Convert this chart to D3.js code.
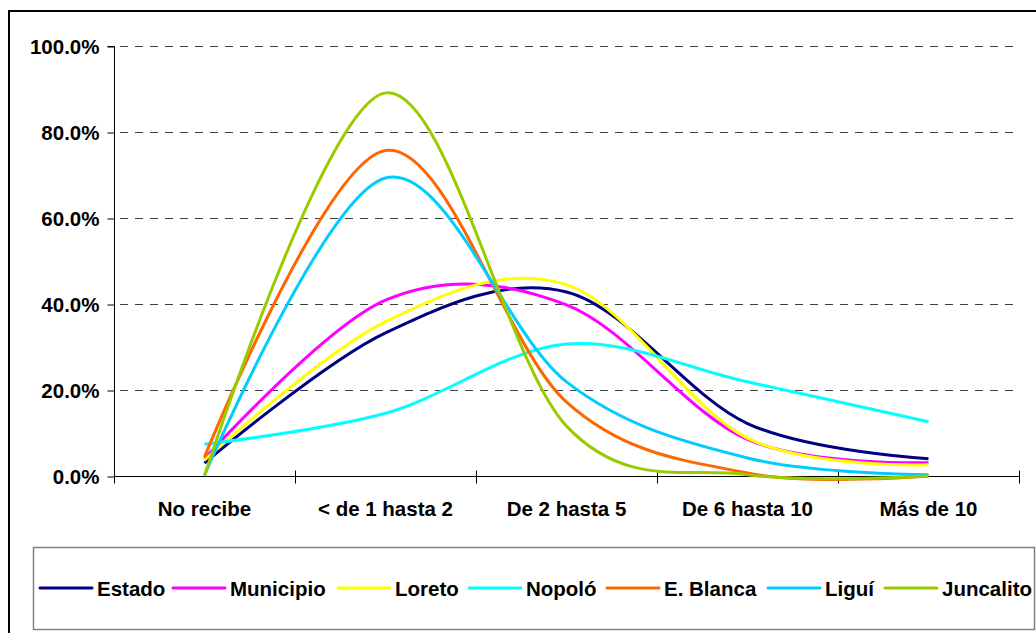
<!DOCTYPE html>
<html><head><meta charset="utf-8">
<script src="https://cdn.jsdelivr.net/npm/d3@7"></script>
<style>
html,body{margin:0;padding:0;background:#fff;overflow:hidden;}
text{font-family:"Liberation Sans",Arial,sans-serif;font-weight:bold;fill:#000;}
</style></head>
<body>
<svg id="chart" width="1036" height="633"></svg>
<script>
const categories = ["No recibe", "< de 1 hasta 2", "De 2 hasta 5", "De 6 hasta 10", "Más de 10"];
const seriesNames = ["Estado", "Municipio", "Loreto", "Nopoló", "E. Blanca", "Liguí", "Juncalito"];
const seriesColors = ["#000080", "#FF00FF", "#FFFF00", "#00FFFF", "#FF6600", "#00CCFF", "#99CC00"];
const estado    = [3.0, 33.3, 42.8, 12.2, 4.0];
const municipio = [4.0, 40.9, 39.8, 8.5, 3.1];
const loreto    = [3.7, 35.9, 44.5, 8.8, 2.6];
const nopolo    = [7.4, 14.6, 30.7, 21.9, 12.6];
const eblanca   = [4.4, 75.7, 17.2, 0.7, 0.0];
const ligui     = [0.2, 69.3, 21.9, 4.2, 0.3];
const juncalito = [0.0, 89.1, 11.6, 0.3, 0.0];
const yTicks = [0, 20, 40, 60, 80, 100];

const seriesValues = [estado, municipio, loreto, nopolo, eblanca, ligui, juncalito];

const svg = d3.select("#chart");
const plot = {left: 114, right: 1019, top: 46, bottom: 476};

// outer frame
svg.append("rect").attr("x", 9).attr("y", 11).attr("width", 1200).attr("height", 800)
  .attr("fill", "#fff").attr("stroke", "#000").attr("stroke-width", 2);

const x = d3.scaleBand().domain(categories).range([plot.left, plot.right]);
const y = d3.scaleLinear().domain([0, 100]).range([plot.bottom, plot.top]);

// gridlines
svg.append("g").selectAll("line").data(yTicks.filter(d => d > 0)).join("line")
  .attr("x1", plot.left).attr("x2", plot.right)
  .attr("y1", d => Math.round(y(d)) + 0.5).attr("y2", d => Math.round(y(d)) + 0.5)
  .attr("stroke", "#404040").attr("stroke-width", 1).attr("stroke-dasharray", "8,7")
  .attr("stroke-dashoffset", -6);

// y axis
const yAxis = d3.axisLeft(y).tickValues(yTicks).tickSize(7).tickPadding(8)
  .tickFormat(d => d.toFixed(1) + "%");
const gy = svg.append("g").attr("transform", `translate(${plot.left + 0.5},0.5)`).call(yAxis);
gy.select(".domain").attr("stroke", "#000").attr("d", `M-7,${plot.top}H0V${plot.bottom}`);
gy.selectAll(".tick line").attr("stroke", "#000");
gy.selectAll(".tick text").attr("font-size", 20.5).attr("font-family", "Liberation Sans, Arial, sans-serif")
  .attr("font-weight", "bold").attr("fill", "#000").attr("dy", "0.35em").attr("x", -15);

// x axis
const gx = svg.append("g").attr("transform", `translate(0,${plot.bottom + 0.5})`);
gx.append("line").attr("x1", plot.left).attr("x2", plot.right).attr("y1", 0).attr("y2", 0).attr("stroke", "#000");
const edges = categories.map(c => x(c)).concat([x(categories[categories.length - 1]) + x.bandwidth()]);
gx.selectAll("line.tk").data(edges).join("line").attr("class", "tk")
  .attr("x1", d => Math.round(d) + 0.5).attr("x2", d => Math.round(d) + 0.5)
  .attr("y1", -6).attr("y2", 7).attr("stroke", "#000");
gx.selectAll("text").data(categories).join("text")
  .attr("x", d => x(d) + x.bandwidth() / 2).attr("y", 39)
  .attr("text-anchor", "middle").attr("font-size", 20.5).text(d => d);

// lines
const line = d3.line()
  .x((d, i) => x(categories[i]) + x.bandwidth() / 2)
  .y(d => y(d))
  .curve(d3.curveCardinal.tension(0));

svg.append("g").selectAll("path").data(seriesValues).join("path")
  .attr("d", d => line(d)).attr("fill", "none")
  .attr("stroke", (d, i) => seriesColors[i]).attr("stroke-width", 3)
  .attr("stroke-linejoin", "round");

// legend
const legendBox = {x: 33, y: 547, w: 1001, h: 82};
svg.append("defs").append("clipPath").attr("id", "legclip").append("rect")
  .attr("x", legendBox.x).attr("y", legendBox.y).attr("width", legendBox.w).attr("height", legendBox.h);
svg.append("rect").attr("x", legendBox.x + 0.5).attr("y", legendBox.y + 0.5)
  .attr("width", legendBox.w).attr("height", legendBox.h)
  .attr("fill", "#fff").attr("stroke", "#808080").attr("stroke-width", 1.5);
const legendX = [39, 172, 337, 468, 606, 767, 884];
const lg = svg.append("g").attr("clip-path", "url(#legclip)");
const items = lg.selectAll("g").data(seriesNames).join("g")
  .attr("transform", (d, i) => `translate(${legendX[i]},588)`);
items.append("line").attr("x1", 1).attr("x2", 53).attr("y1", 0).attr("y2", 0)
  .attr("stroke", (d, i) => seriesColors[i]).attr("stroke-width", 3).attr("stroke-linecap", "round");
items.append("text").attr("x", 58).attr("y", 7.5).attr("font-size", 20.5).text(d => d);
</script>
</body></html>
